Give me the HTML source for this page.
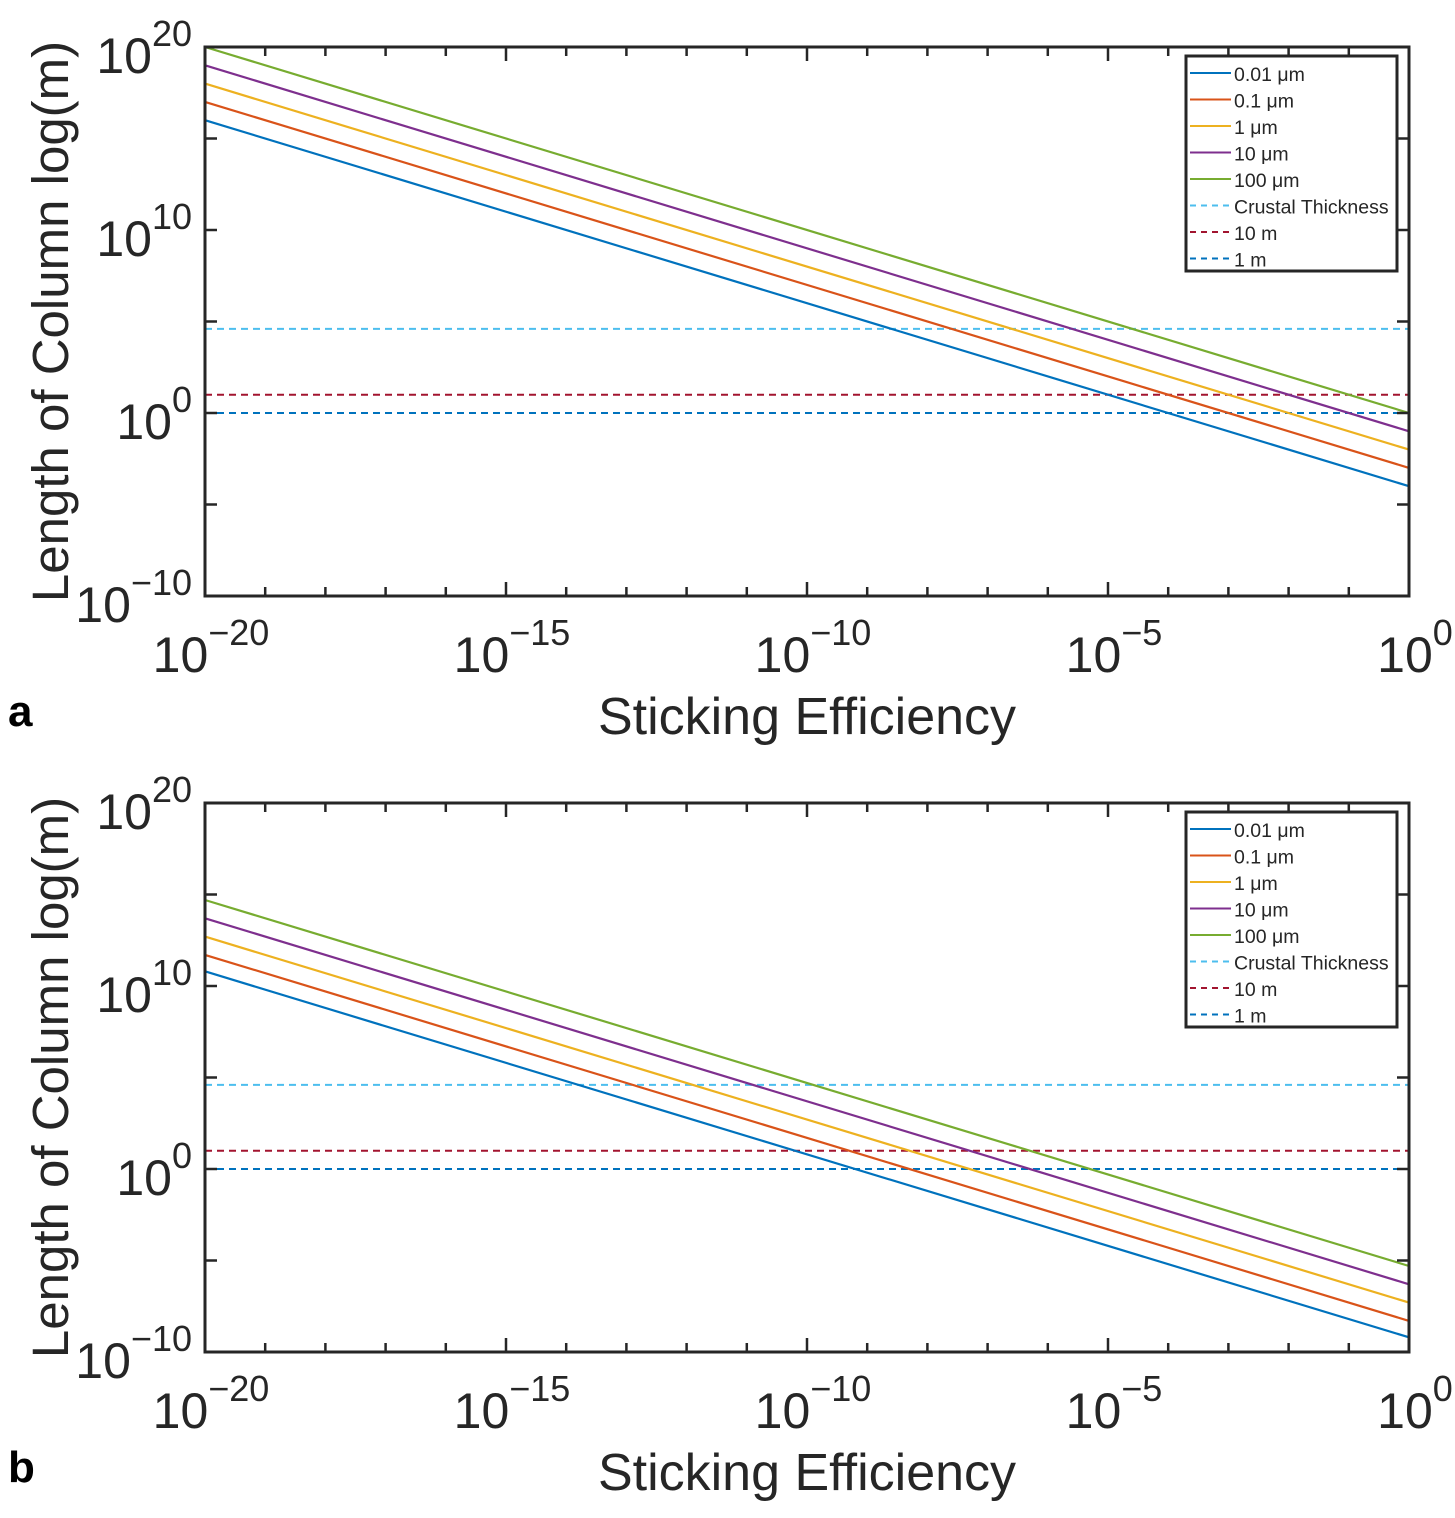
<!DOCTYPE html>
<html><head><meta charset="utf-8"><style>
html,body{margin:0;padding:0;background:#fff;}
svg{display:block;font-family:"Liberation Sans",Arial,sans-serif;}
</style></head><body>
<svg id="fig" width="1455" height="1518" viewBox="0 0 1455 1518" xmlns="http://www.w3.org/2000/svg"></svg>
<script>
// data (log10 values)
const xRange = [-20, 0];
const yRange = [-10, 20];
const seriesNames = ["0.01 \u03bcm","0.1 \u03bcm","1 \u03bcm","10 \u03bcm","100 \u03bcm"];
const seriesColors = ["#0072BD","#D95319","#EDB120","#7E2F8E","#77AC30"];
const panelAStart = [16, 17, 18, 19, 20];
const panelAEnd = [-4, -3, -2, -1, 0];
const panelBStart = [10.8, 11.7, 12.7, 13.7, 14.7];
const panelBEnd = [-9.2, -8.3, -7.3, -6.3, -5.3];
const hlineNames = ["Crustal Thickness","10 m","1 m"];
const hlineValues = [4.6, 1, 0];
const hlineColors = ["#4DBEEE","#A2142F","#0072BD"];
const xTicks = [-20, -15, -10, -5, 0];
const yTicks = [-10, 0, 10, 20];

const NS = "http://www.w3.org/2000/svg";
const svg = document.getElementById('fig');
function mk(tag, attrs, parent){const e=document.createElementNS(NS,tag);for(const k in attrs)e.setAttribute(k,attrs[k]);(parent||svg).appendChild(e);return e;}

function panel(top, startVals, endVals, letter, name){
  const L=205,R=1409,T=top,B=top+549;
  const g=mk('g',{});
  
  
  const sx=v=>L+(v-xRange[0])/(xRange[1]-xRange[0])*(R-L);
  const sy=v=>B-(v-yRange[0])/(yRange[1]-yRange[0])*(B-T);
  hlineValues.forEach((v,i)=>{
    const l=mk('line',{x1:L,x2:R,y1:sy(v),y2:sy(v),stroke:hlineColors[i],'stroke-width':2,'stroke-dasharray':'7,5'},g);
    
    
  });
  startVals.forEach((s,i)=>{
    const l=mk('line',{x1:sx(xRange[0]),y1:sy(s),x2:sx(xRange[1]),y2:sy(endVals[i]),stroke:seriesColors[i],'stroke-width':2.2},g);
    
    
  });
  for(let d=xRange[0];d<=xRange[1];d++){
    const len=(d%5===0)?14:9;
    mk('line',{x1:sx(d),x2:sx(d),y1:B,y2:B-len,stroke:'#262626','stroke-width':2.5},g);
    mk('line',{x1:sx(d),x2:sx(d),y1:T,y2:T+len,stroke:'#262626','stroke-width':2.5},g);
  }
  for(let d=yRange[0];d<=yRange[1];d+=5){
    mk('line',{x1:L,x2:L+12,y1:sy(d),y2:sy(d),stroke:'#262626','stroke-width':2.5},g);
    mk('line',{x1:R,x2:R-12,y1:sy(d),y2:sy(d),stroke:'#262626','stroke-width':2.5},g);
  }
  const box=mk('rect',{x:L,y:T,width:R-L,height:B-T,fill:'none',stroke:'#262626','stroke-width':3},g);
  
  
  xTicks.forEach(v=>{
    const t=mk('text',{x:sx(v)+6,y:B+76,'font-size':50,fill:'#262626','text-anchor':'middle'},g);
    
    
    t.textContent='10';
    const s=mk('tspan',{dy:-27,'font-size':36},t);
    s.textContent=(v<0?'\u2212'+(-v):''+v);
  });
  yTicks.forEach(v=>{
    const t=mk('text',{x:192,y:sy(v)+26,'font-size':50,fill:'#262626','text-anchor':'end'},g);
    
    
    t.textContent='10';
    const s=mk('tspan',{dy:-27,'font-size':36},t);
    s.textContent=(v<0?'\u2212'+(-v):''+v);
  });
  const xl=mk('text',{x:807,y:B+138,'font-size':52,fill:'#262626','text-anchor':'middle'},g);
  
  
  xl.textContent='Sticking Efficiency';
  const yl=mk('text',{x:0,y:0,'font-size':51,fill:'#262626','text-anchor':'middle',transform:`translate(68,${(T+B)/2}) rotate(-90)`},g);
  
  
  yl.textContent='Length of Column log(m)';
  const pl=mk('text',{x:8,y:B+130,'font-size':44,'font-weight':'bold',fill:'#000'},g);
  
  
  pl.textContent=letter;
  const lg=mk('g',{},g);
  
  
  mk('rect',{x:1186,y:T+9,width:211,height:215,fill:'#fff',stroke:'#262626','stroke-width':3},lg);
  const names=seriesNames.concat(hlineNames), cols=seriesColors.concat(hlineColors);
  names.forEach((n,i)=>{
    const y=T+27+i*26.5;
    const e=mk('g',{},lg);
    
    
    const l=mk('line',{x1:1190,x2:1231,y1:y-1,y2:y-1,stroke:cols[i],'stroke-width':2},e);
    if(i>=5) l.setAttribute('stroke-dasharray','6,5');
    const t=mk('text',{x:1234,y:y+7,'font-size':19.5,fill:'#262626'},e);
    t.textContent=n;
  });
}
panel(47, panelAStart, panelAEnd, 'a', 'panel-a');
panel(803, panelBStart, panelBEnd, 'b', 'panel-b');
</script>
</body></html>
